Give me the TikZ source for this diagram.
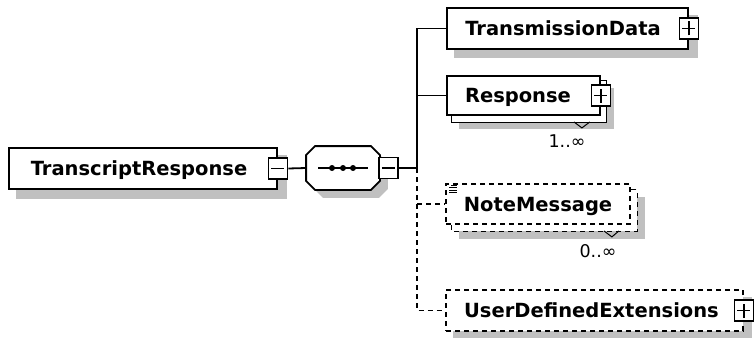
\documentclass[tikz,border=0pt]{standalone}
\usepackage{fontspec}
\setmainfont{DejaVu Sans}
\usetikzlibrary{calc,backgrounds}
\definecolor{shadowgray}{RGB}{192,192,192}
\newcommand\octpathcmd[1]{($(seq.north west)+(9+#1,#1)$) -- ($(seq.north east)+(-9+#1,#1)$) -- ($(seq.north east)+(#1,9+#1)$) -- ($(seq.south east)+(#1,-9+#1)$) -- ($(seq.south east)+(-9+#1,#1)$) -- ($(seq.south west)+(9+#1,#1)$) -- ($(seq.south west)+(#1,-9+#1)$) -- ($(seq.north west)+(#1,9+#1)$) -- cycle}
\begin{document}
\begin{tikzpicture}[x=1pt,y=-1pt,line width=1.8pt,
  elbox/.style={draw,fill=white,rectangle,minimum height=41pt,inner sep=0pt,
    font=\fontsize{19.5}{22}\selectfont\bfseries,text height=16pt,text depth=1.8pt},
  optbox/.style={elbox,dash pattern=on 5pt off 4pt},
  pmcell/.style={draw,fill=white,rectangle,minimum width=19pt,minimum height=21pt,inner sep=0pt},
  pluscell/.style={pmcell,path picture={\draw[line width=1.6pt]
      ([xshift=-6.5pt]path picture bounding box.center) -- ([xshift=6.5pt]path picture bounding box.center)
      ([yshift=-7pt]path picture bounding box.center) -- ([yshift=7pt]path picture bounding box.center);}},
  minuscell/.style={pmcell,path picture={\draw[line width=1.6pt]
      ([xshift=-6.5pt]path picture bounding box.center) -- ([xshift=6.5pt]path picture bounding box.center);}},
  seqnode/.style={rectangle,minimum width=72pt,minimum height=42pt,inner sep=0pt},
  mult/.style={font=\fontsize{17.5}{20}\selectfont,inner sep=0pt},
  dashconn/.style={dash pattern=on 5pt off 4pt},
  notch/.style={line width=1pt}
]
\useasboundingbox (0,0) rectangle (754,337);

% nodes
\node[elbox,minimum width=268pt] (tr) at (143,168.5) {TranscriptResponse\hspace*{8pt}};
\node[minuscell] (trm) at (tr.east) {};

\node[seqnode] (seq) at (343,168) {};
\draw[fill=white] \octpathcmd{0};
\node[minuscell,anchor=west] (seqm) at ([xshift=-2pt]seq.east) {};

\node[elbox,minimum width=241pt] (td) at (567.5,28.5) {TransmissionData\hspace*{9pt}};
\node[pluscell] (tdp) at (td.east) {};

\node[elbox,minimum width=153pt,minimum height=39pt] (resp) at (523.5,95.5) {Response\hspace*{11pt}};
\node[pluscell] (respp) at (resp.east) {};
\node[mult] (respm) at (567,141) {1..∞};

\node[optbox,minimum width=184pt,minimum height=40pt] (nm) at (538,204) {NoteMessage};
\node[mult] (nmm) at (598,251) {0..∞};

\node[optbox,minimum width=297pt] (ude) at (594.5,310.5) {UserDefinedExtensions\hspace*{6pt}};
\node[pluscell] (udep) at (ude.east) {};

% shadows and stacked back boxes
\begin{scope}[on background layer]
  \fill[shadowgray] ($(tr.north west)+(8,8)$) rectangle ($(tr.south east)+(9,9)$);
  \fill[shadowgray] \octpathcmd{8};
  \fill[shadowgray] ($(td.north west)+(8,8)$) rectangle ($(td.south east)+(9,8)$);
  \fill[shadowgray] ($(resp.north west)+(13,13)$) rectangle ($(resp.south east)+(13,13)$);
  \draw[fill=white] ($(resp.north west)+(5,5)$) rectangle ($(resp.south east)+(5,6)$);
  \fill[shadowgray] ($(nm.north west)+(14,14)$) rectangle ($(nm.south east)+(14,14)$);
  \draw[fill=white,dashconn] ($(nm.north west)+(6,6)$) rectangle ($(nm.south east)+(6,6)$);
  \fill[shadowgray] ($(ude.north west)+(8,8)$) rectangle ($(ude.south east)+(8,8)$);
\end{scope}

% sequence symbol
\draw ([xshift=-25pt]seq.center) -- ([xshift=25pt]seq.center);
\fill ([xshift=-11pt]seq.center) circle (3pt)
      (seq.center) circle (3pt)
      ([xshift=10pt]seq.center) circle (3pt);

% notches
\draw[notch] ($(resp.south east)+(-27,6)$) -- ($(resp.south east)+(-19,12)$) -- ($(resp.south east)+(-11,6)$);
\draw[notch] ($(nm.south east)+(-27,6)$) -- ($(nm.south east)+(-19,12)$) -- ($(nm.south east)+(-12,6)$);

% documentation icon
\draw[line width=0.9pt]
  ($(nm.north west)+(6,2)$) -- ($(nm.north west)+(12,2)$)
  ($(nm.north west)+(4,4.5)$) -- ($(nm.north west)+(12,4.5)$)
  ($(nm.north west)+(4,7)$) -- ($(nm.north west)+(12,7)$)
  ($(nm.north west)+(4,9.5)$) -- ($(nm.north west)+(12,9.5)$);

% connectors
\coordinate (trunk) at (417,168);
\draw (trm.east) -- (seq.west);
\draw (seqm.east) -- (trunk);
\draw (trunk) |- (td.west);
\draw (trunk) |- (resp.west);
\draw[dashconn] (trunk) |- (ude.west);
\draw[dashconn] (nm.west -| trunk) -- (nm.west);
\end{tikzpicture}
\end{document}
